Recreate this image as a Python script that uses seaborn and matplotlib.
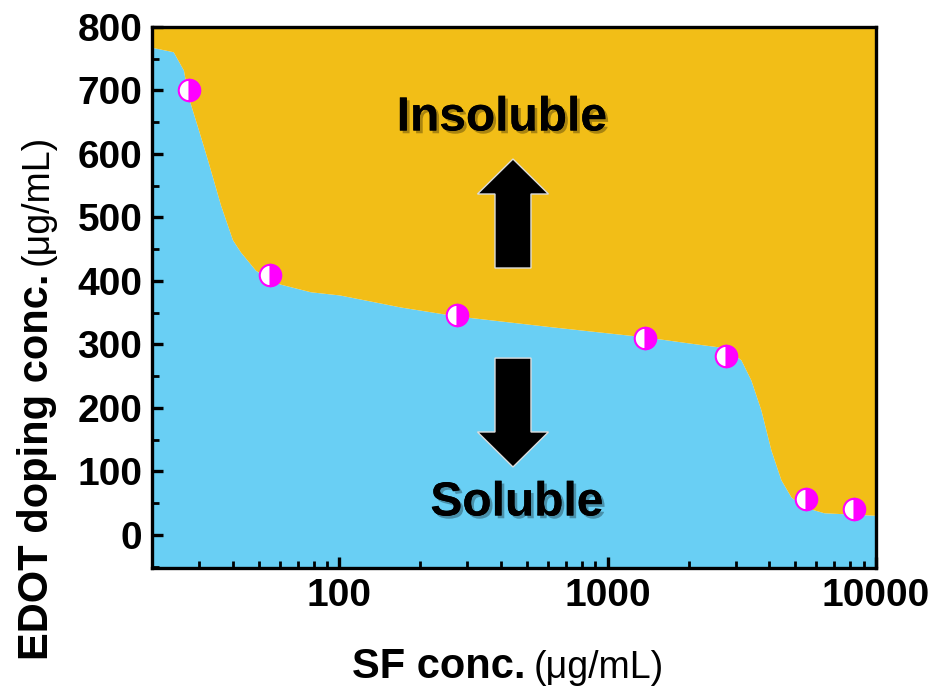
import numpy as np
import pandas as pd
import matplotlib
matplotlib.use("Agg")
import matplotlib.pyplot as plt
import seaborn as sns
import matplotlib.patheffects as pe
from matplotlib.patches import FancyArrow
from matplotlib.ticker import FixedLocator, MultipleLocator, FuncFormatter, NullFormatter

# Solubility boundary: SF concentration vs. EDOT doping concentration
boundary_sf = [20, 24.0, 26.2, 27.3, 29.8, 32.2, 36.0, 39.9, 42.7, 48.6, 55.3,
               60.2, 78.0, 100, 169, 273, 613, 1374, 2040, 2733, 3135, 3417,
               3723, 4057, 4421, 4818, 5387, 6397, 10000]
boundary_edot = [768, 761, 732, 690, 638, 591, 520, 465, 446, 417, 402,
                 395, 383, 378, 359, 345, 328, 312, 302, 295, 276, 244,
                 197, 134, 87, 60, 44, 35, 31]

# Measured solubility limits
sample_sf = [27.5, 55, 275, 1375, 2750, 5500, 8250]
sample_edot = [700, 410, 347, 310, 282, 57, 41]

x_ticks = [100, 1000, 10000]
y_ticks = [0, 100, 200, 300, 400, 500, 600, 700, 800]

boundary = pd.DataFrame({"sf": boundary_sf, "edot": boundary_edot})
samples = pd.DataFrame({"sf": sample_sf, "edot": sample_edot})

sns.set_theme(style="ticks")
plt.rcParams["font.family"] = ["Liberation Sans", "DejaVu Sans"]
plt.rcParams["font.weight"] = "bold"
plt.rcParams["text.color"] = "black"
plt.rcParams["xtick.color"] = "black"
plt.rcParams["ytick.color"] = "black"

BLUE = "#69cff4"
ORANGE = "#f2be17"
MAGENTA = "#ff00ff"

fig = plt.figure(figsize=(9.36, 6.97), dpi=100)
ax = fig.add_axes([152 / 936, 1 - 568 / 697, 724 / 936, 541 / 697])
ax.set_axisbelow(False)

ax.set_xscale("log")
ax.set_xlim(20, 10000)
ax.set_ylim(-52, 800)

ax.fill_between(boundary["sf"], -60, boundary["edot"], color=BLUE, lw=0, zorder=1)
ax.fill_between(boundary["sf"], boundary["edot"], 820, color=ORANGE, lw=0, zorder=1)

sns.lineplot(data=samples, x="sf", y="edot", ax=ax, linestyle="", marker="o",
             markersize=15.5, fillstyle="right", markerfacecolor=MAGENTA,
             markerfacecoloralt="white", markeredgecolor=MAGENTA,
             markeredgewidth=1.5, zorder=5)

# Direction arrows
arrow_kw = dict(transform=ax.transAxes, width=36 / 724, head_width=71 / 724,
                head_length=35 / 541, length_includes_head=True,
                facecolor="black", edgecolor="#dddddd", lw=1.0, zorder=4)
ax.add_patch(FancyArrow(0.4986, 0.5545, 0, 0.756 - 0.5545, **arrow_kw))
ax.add_patch(FancyArrow(0.4986, 0.388, 0, 0.1867 - 0.388, **arrow_kw))

shadow = [pe.withSimplePatchShadow(offset=(2, -2), shadow_rgbFace="black", alpha=0.3),
          pe.Normal()]
ax.text((502 - 152) / 724, (568 - 118) / 541, "Insoluble", transform=ax.transAxes,
        ha="center", va="center", fontsize=34.5, fontweight="bold",
        color="black", path_effects=shadow, zorder=6)
ax.text((517 - 152) / 724, (568 - 503) / 541, "Soluble", transform=ax.transAxes,
        ha="center", va="center", fontsize=34.5, fontweight="bold",
        color="black", path_effects=shadow, zorder=6)

# Axes styling
for s in ax.spines.values():
    s.set_linewidth(2.4)
    s.set_color("black")
    s.set_zorder(10)
ax.xaxis.set_zorder(9)
ax.yaxis.set_zorder(9)

ax.xaxis.set_major_locator(FixedLocator(x_ticks))
ax.xaxis.set_minor_locator(FixedLocator(
    [v * d for d in (10, 100, 1000) for v in range(2, 10) if 20 <= v * d <= 10000]))
ax.xaxis.set_major_formatter(FuncFormatter(lambda v, p: f"{int(v)}"))
ax.xaxis.set_minor_formatter(NullFormatter())
ax.yaxis.set_major_locator(FixedLocator(y_ticks))
ax.yaxis.set_minor_locator(MultipleLocator(50))

ax.tick_params(axis="both", which="both", direction="in", top=False, right=False,
               color="black", labelcolor="black")
ax.tick_params(axis="both", which="major", length=8, width=2.4, labelsize=28, pad=7)
ax.tick_params(axis="both", which="minor", length=5, width=2.0)
for lab in ax.get_xticklabels() + ax.get_yticklabels():
    lab.set_fontweight("bold")
ax.set_xlabel("")
ax.set_ylabel("")

# Axis titles with a smaller unit part
fig.canvas.draw()
r = fig.canvas.get_renderer()
W, H = fig.bbox.width, fig.bbox.height

tx1 = fig.text(352 / W, 1 - 678 / H, "SF conc.", fontsize=30, fontweight="bold",
               ha="left", va="baseline")
bb = tx1.get_window_extent(r)
fig.text((bb.x1 + 8) / W, 1 - 678 / H, "(μg/mL)", fontsize=27, fontweight="normal",
         ha="left", va="baseline")

ty1 = fig.text(48 / W, 1 - 660 / H, "EDOT doping conc.", fontsize=30, fontweight="bold",
               rotation=90, rotation_mode="anchor", ha="left", va="baseline")
bb = ty1.get_window_extent(r)
fig.text(48 / W, (bb.y1 + 8) / H, "(μg/mL)", fontsize=27, fontweight="normal",
         rotation=90, rotation_mode="anchor", ha="left", va="baseline")

fig.savefig("out.png", dpi=100, facecolor="white")
